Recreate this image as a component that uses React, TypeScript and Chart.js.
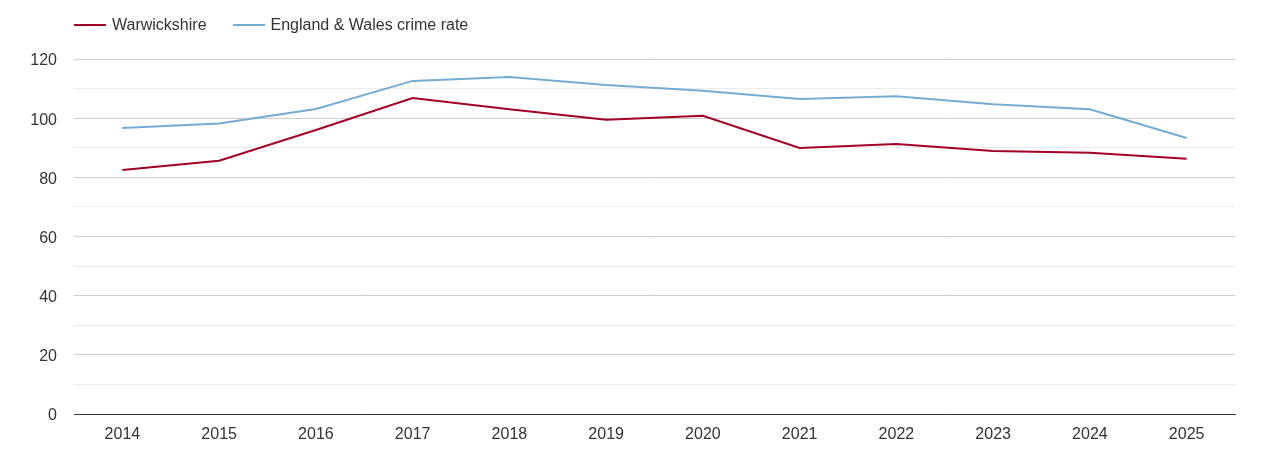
import { useEffect, useRef } from 'react'
import { Chart, registerables, type ChartOptions } from 'chart.js'

Chart.register(...registerables)

const YEARS = ['2014', '2015', '2016', '2017', '2018', '2019', '2020', '2021', '2022', '2023', '2024', '2025']
const WARWICKSHIRE = [82.5, 85.6, 96.0, 106.8, 103.0, 99.5, 100.8, 89.9, 91.3, 88.9, 88.3, 86.3]
const ENGLAND_WALES = [96.7, 98.2, 103.1, 112.6, 113.9, 111.2, 109.3, 106.5, 107.4, 104.7, 103.0, 93.3]

const RED  = '#a50026'
const BLUE = '#74add1'
const TEXT = '#333333'
const FONT = "'Liberation Sans', Arial, sans-serif"

const SERIES = [
  { label: 'Warwickshire', color: RED, data: WARWICKSHIRE },
  { label: 'England & Wales crime rate', color: BLUE, data: ENGLAND_WALES },
]

export default function App() {
  const canvasRef = useRef<HTMLCanvasElement>(null)

  useEffect(() => {
    const canvas = canvasRef.current
    if (!canvas) return
    Chart.getChart(canvas)?.destroy()

    const options: ChartOptions<'line'> = {
      responsive: true,
      maintainAspectRatio: false,
      animation: false,
      layout: { padding: { top: 51, right: 27, left: 0, bottom: 0 } },
      plugins: { legend: { display: false }, tooltip: { enabled: false } },
      elements: { point: { radius: 0 }, line: { tension: 0, borderWidth: 2 } },
      scales: {
        x: {
          offset: true,
          afterFit: (axis) => { axis.height = 28 },
          grid: { display: false, drawTicks: false },
          border: { display: true, color: TEXT, width: 1 },
          ticks: { color: TEXT, padding: 11, font: { family: FONT, size: 16 } },
        },
        y: {
          min: 0,
          max: 120,
          afterFit: (axis) => { axis.width = 66 },
          border: { display: false },
          grid: {
            drawTicks: false,
            color: (ctx) => (ctx.tick && ctx.tick.value % 20 === 0 ? '#cccccc' : '#ebebeb'),
          },
          ticks: {
            stepSize: 10,
            padding: 17,
            labelOffset: 2,
            color: TEXT,
            font: { family: FONT, size: 16 },
            callback: (v) => (Number(v) % 20 === 0 ? String(v) : ''),
          },
        },
      },
    }

    const chart = new Chart(canvas, {
      type: 'line',
      data: {
        labels: YEARS,
        datasets: SERIES.map((s) => ({
          label: s.label,
          data: s.data,
          borderColor: s.color,
          backgroundColor: s.color,
          fill: false,
        })),
      },
      options,
    })
    return () => chart.destroy()
  }, [])

  return (
    <div style={{ position: 'relative', width: 1254, height: 434, fontFamily: FONT }}>
      <div style={{ position: 'absolute', left: 66, top: 8, display: 'flex', alignItems: 'center', height: 18, color: TEXT, fontSize: 16 }}>
        {SERIES.map((s) => (
          <div key={s.label} style={{ display: 'flex', alignItems: 'center', marginRight: 26 }}>
            <span style={{ display: 'inline-block', width: 32, height: 2, background: s.color, marginRight: 6 }} />
            <span>{s.label}</span>
          </div>
        ))}
      </div>
      <canvas ref={canvasRef} />
    </div>
  )
}
